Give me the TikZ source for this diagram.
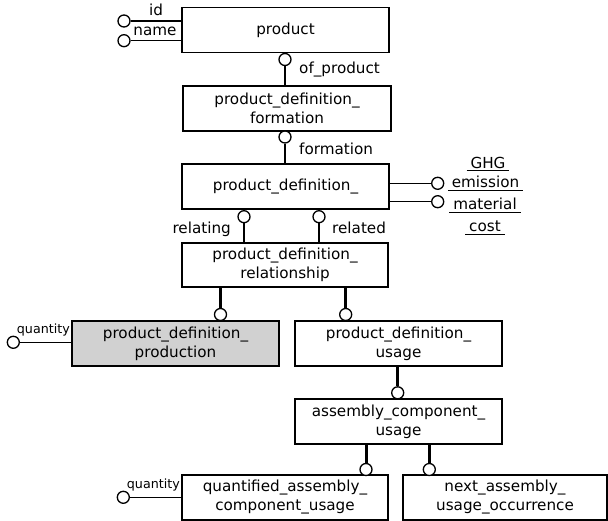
\documentclass[tikz,border=0pt]{standalone}
\usepackage{fontspec}
\setmainfont{DejaVu Sans}
\newlength{\du}
\setlength{\du}{1pt}
\definecolor{prodgray}{rgb}{0.820000, 0.820000, 0.820000}
\newcommand{\ulword}[1]{\setbox0\hbox{\kern4pt#1\kern4pt}\rlap{\rule[-3.2\du]{\wd0}{1\du}}\box0}
\tikzset{
  entity/.style={draw, line width=1.4\du, minimum width=207\du, minimum height=45\du,
    inner sep=0pt, align=center, font=\fontsize{15.2}{19}\selectfont},
  attrring/.style={circle, draw, fill=white, line width=1.3\du, minimum size=12\du, inner sep=0pt},
  rolename/.style={inner sep=0pt, font=\fontsize{15.2}{19}\selectfont},
  smalllabel/.style={inner sep=0pt, font=\fontsize{12.7}{15}\selectfont},
  thinlink/.style={line width=1.3\du},
  thicklink/.style={line width=3\du},
}
\begin{document}
\begin{tikzpicture}
\pgftransformxscale{1.000000}
\pgftransformyscale{-1.000000}
\useasboundingbox (0\du,0\du) rectangle (608\du,521\du);
% entities
\node[entity] (product) at (285.5\du,30\du) {product};
\node[entity, minimum width=208\du] (pdformation) at (287\du,108.5\du) {product\_definition\_\\formation};
\node[entity] (pdef) at (285.5\du,186.5\du) {product\_definition\_};
\node[entity, minimum width=206\du, minimum height=44\du] (pdrel) at (285\du,265\du) {product\_definition\_\\relationship};
\node[entity, fill=prodgray] (pdprod) at (175.5\du,343.5\du) {product\_definition\_\\production};
\node[entity] (pdusage) at (398.5\du,343.5\du) {product\_definition\_\\usage};
\node[entity] (acu) at (398.5\du,421.5\du) {assembly\_component\_\\usage};
\node[entity, minimum width=206\du] (qacu) at (285\du,497.5\du) {quantified\_assembly\_\\component\_usage};
\node[entity, minimum width=204\du] (nauo) at (505\du,497.5\du) {next\_assembly\_\\usage\_occurrence};
% product attributes
\node[attrring] (idring) at (124\du,21\du) {};
\node[attrring] (namering) at (124\du,40.7\du) {};
\draw[thinlink] (idring.east) -- (idring.east -| product.west);
\draw[thinlink] (namering.east) -- (namering.east -| product.west);
\node[rolename, anchor=base] (idlabel) at (156\du,16\du) {id};
\node[rolename, anchor=base] (namelabel) at (155\du,36\du) {name};
% of_product
\node[attrring] (ofring) at (285\du,59.5\du) {};
\draw[thinlink] (ofring.south) -- (ofring.south |- pdformation.north);
\node[rolename, anchor=base west] (oflabel) at (299\du,74\du) {of\_product};
% formation
\node[attrring] (formring) at (285\du,137\du) {};
\draw[thinlink] (formring.south) -- (formring.south |- pdef.north);
\node[rolename, anchor=base west] (formlabel) at (299\du,155\du) {formation};
% GHG emission, material cost
\node[attrring] (ghgring) at (437.7\du,183.3\du) {};
\node[attrring] (costring) at (437.7\du,201.7\du) {};
\draw[thinlink] (ghgring.west) -- (ghgring.west -| pdef.east);
\draw[thinlink] (costring.west) -- (costring.west -| pdef.east);
\node[rolename, anchor=base] (ghglabel) at (488\du,168.3\du) {\ulword{GHG}};
\node[rolename, anchor=base] (emislabel) at (485.5\du,187.7\du) {\ulword{emission}};
\node[rolename, anchor=base] (matlabel) at (485\du,210\du) {\ulword{material}};
\node[rolename, anchor=base] (costlabel) at (485\du,231.7\du) {\ulword{cost}};
% relating / related
\node[attrring] (relatingring) at (244\du,216.7\du) {};
\node[attrring] (relatedring) at (319\du,216.7\du) {};
\draw[thinlink] (relatingring.south) -- (relatingring.south |- pdrel.north);
\draw[thinlink] (relatedring.south) -- (relatedring.south |- pdrel.north);
\node[rolename, anchor=base east] (relatinglabel) at (231\du,233.3\du) {relating};
\node[rolename, anchor=base west] (relatedlabel) at (332\du,233.3\du) {related};
% subtypes of relationship
\node[attrring] (prodring) at (220.5\du,314.5\du) {};
\node[attrring] (usagering) at (345.7\du,314.5\du) {};
\draw[thicklink] (prodring.north) -- (prodring.north |- pdrel.south);
\draw[thicklink] (usagering.north) -- (usagering.north |- pdrel.south);
\node[attrring] (acuring) at (397.7\du,392.8\du) {};
\draw[thicklink] (acuring.north) -- (acuring.north |- pdusage.south);
\node[attrring] (qacuring) at (366\du,469.5\du) {};
\node[attrring] (nauoring) at (429.3\du,469.5\du) {};
\draw[thicklink] (qacuring.north) -- (qacuring.north |- acu.south);
\draw[thicklink] (nauoring.north) -- (nauoring.north |- acu.south);
% quantity
\node[attrring] (prodqring) at (13.3\du,342.3\du) {};
\draw[thinlink] (prodqring.east) -- (prodqring.east -| pdprod.west);
\node[smalllabel, anchor=base west] (prodqlabel) at (16.7\du,333.3\du) {quantity};
\node[attrring] (qacuqring) at (123.3\du,497.3\du) {};
\draw[thinlink] (qacuqring.east) -- (qacuqring.east -| qacu.west);
\node[smalllabel, anchor=base west] (qacuqlabel) at (126.7\du,488.3\du) {quantity};
\end{tikzpicture}
\end{document}
